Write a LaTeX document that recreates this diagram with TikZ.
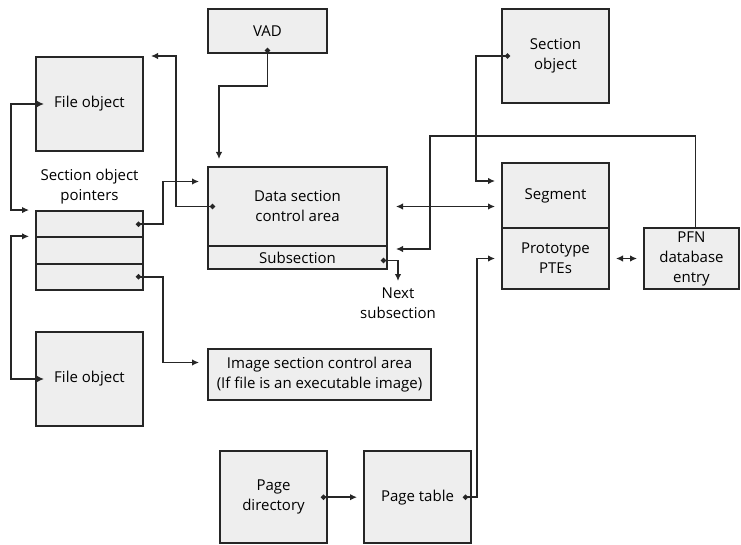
\documentclass[tikz,border=0pt]{standalone}
\usepackage{fontspec}
\setmainfont{Open Sans}
\usetikzlibrary{calc, positioning, arrows.meta}
\definecolor{boxfill}{RGB}{238,238,238}
\definecolor{edge}{RGB}{38,38,38}

\begin{document}
\begin{tikzpicture}[x=1pt, y=-1pt, font=\fontsize{15}{20}\selectfont,
  blk/.style={draw=edge, line width=2pt, fill=boxfill, align=center, inner sep=0pt},
  link/.style={draw=edge, line width=1.8pt, {Circle[length=5pt]}-{Latex[length=7pt,width=6.5pt]}},
  plain/.style={draw=edge, line width=1.8pt, -{Latex[length=7pt,width=6.5pt]}},
  both/.style={draw=edge, line width=1.8pt, {Latex[length=7pt,width=6.5pt]}-{Latex[length=7pt,width=6.5pt]}}]
  \useasboundingbox (0,0) rectangle (741,545);

  % Left column: file objects and the pointer array
  \node[blk, minimum width=107pt, minimum height=94pt] (fileA) at (89.5,104) {File object};
  \node[align=center] (ptrlbl) at (89.5,187) {Section object\\pointers};
  \node[blk, minimum width=107pt, minimum height=26.3pt] (ptr1) at (89.5,224.2) {};
  \node[blk, minimum width=107pt, minimum height=26.3pt] (ptr2) at (89.5,250.5) {};
  \node[blk, minimum width=107pt, minimum height=26.3pt] (ptr3) at (89.5,276.8) {};
  \node[blk, minimum width=107pt, minimum height=94pt] (fileB) at (89.5,379) {File object};

  % Middle: VAD and control areas
  \node[blk, minimum width=119pt, minimum height=44pt] (vad) at (267.5,31) {VAD};
  \node[blk, minimum width=179pt, minimum height=79pt] (dsca) at (297.5,206.5) {Data section\\control area};
  \node[blk, minimum width=179pt, minimum height=23pt] (subsec) at (297.5,257.5) {Subsection};
  \node[align=center, anchor=north] (next) at (398,284) {Next\\subsection};
  \node[blk, minimum width=223pt, minimum height=51pt] (isca) at (319.5,374.5)
    {Image section control area\\(If file is an executable image)};

  % Right: section object, segment, PFN
  \node[blk, minimum width=107pt, minimum height=94pt] (secobj) at (555.5,56) {Section\\object};
  \node[blk, minimum width=107pt, minimum height=65pt] (segment) at (555.5,195.5) {Segment};
  \node[blk, minimum width=107pt, minimum height=61pt] (proto) at (555.5,258.5) {Prototype\\PTEs};
  \node[blk, minimum width=95pt, minimum height=61pt] (pfn) at (691.5,258.5) {PFN\\database\\entry};

  % Bottom: page directory and page table
  \node[blk, minimum width=107pt, minimum height=92.5pt] (pdir) at (273.5,497.2) {Page\\directory};
  \node[blk, minimum width=107pt, minimum height=92.5pt] (ptab) at (417.5,497.2) {Page table};

  % Connectors
  \draw[link] ($(vad.south)+(0,-6)$) -- ($(vad.south)+(0,32)$) -| ($(dsca.north west)+(12,-7)$);
  \draw[link] ($(dsca.west)+(8,0)$) -| ($(fileA.north east)+(32,0)$) -- ($(fileA.north east)+(7,0)$);
  \draw[link] ($(ptr1.east)+(-8,0)$) -- ++(27,0) |- ($(dsca.west)+(-8,-25)$);
  \draw[both] ($(ptr1.north west)+(-6,0)$) -| ($(fileA.west)+(-24,0)$) -- ($(fileA.west)+(9,0)$);
  \draw[both] ($(ptr2.north west)+(-6,0)$) -| ($(fileB.west)+(-24,0)$) -- ($(fileB.west)+(9,0)$);
  \draw[link] ($(ptr3.east)+(-8,0)$) -- ++(27,0) |- ($(isca.west)+(-8,-12)$);
  \draw[both] ($(dsca.east)+(8,0)$) -- ($(segment.west)+(-6,11)$);
  \draw[plain] ($(pfn.north)+(4,0)$) -- ++(0,-91) -| ($(subsec.east)+(42,-8.5)$) -- ($(subsec.east)+(8,-8.5)$);
  \draw[link] ($(secobj.west)+(9,0)$) -- ($(secobj.west)+(-25,0)$) |- ($(segment.west)+(-6,-14.5)$);
  \draw[link] ($(subsec.east)+(-7,3)$) -| ($(next.north)+(0,-3)$);
  \draw[both] ($(proto.east)+(6,0)$) -- ($(pfn.west)+(-6,0)$);
  \draw[link] ($(pdir.east)+(-7,0)$) -- ($(ptab.west)+(-6,0)$);
  \draw[link] ($(ptab.east)+(-9,0)$) -- ++(14,0) |- ($(proto.west)+(-6,0)$);
\end{tikzpicture}
\end{document}
